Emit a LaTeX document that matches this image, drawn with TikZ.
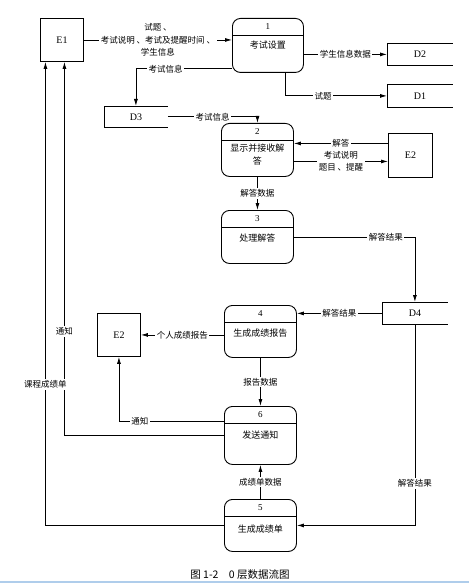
\documentclass[tikz,border=0pt]{standalone}
\usepackage{fontspec}
\setmainfont{Liberation Serif}
\newfontfamily\zh{Noto Sans CJK SC}
\usetikzlibrary{arrows.meta}
\newcommand\mkproc[8][29]{%
  \node[proc, anchor=north west, minimum width=#5pt, minimum height=#6pt] (#2) at (#3,#4) {};
  \draw[line width=0.9pt] ([yshift=-17pt]#2.north west) -- ([yshift=-17pt]#2.north east);
  \node[pnum] (#2n) at ([yshift=-9pt]#2.north) {#7};
  \node[ptext] (#2t) at ([yshift=-#1pt]#2.north) {#8};
}
\newcommand\mkstore[6]{%
  \node[storenode, anchor=north west, minimum width=#4pt, minimum height=#5pt] (#1) at (#2,#3) {#6};
  \draw[line width=0.9pt] (#1.north east) -- (#1.north west) -- (#1.south west) -- (#1.south east);
}
\begin{document}
\begin{tikzpicture}[x=1pt,y=-1pt,
  line width=0.8pt,
  flow/.style={-{Latex[length=7pt,width=4pt]}},
  lab/.style={font=\zh\fontsize{8.5}{12.5}\selectfont, fill=white, inner sep=1.5pt, align=center},
  ent/.style={draw, line width=0.9pt, minimum width=43pt, minimum height=43pt, inner sep=0pt, font=\fontsize{10}{12}\selectfont},
  proc/.style={draw, line width=0.9pt, rounded corners=8pt, inner sep=0pt},
  storenode/.style={inner sep=0pt, font=\fontsize{10}{12}\selectfont},
  ptext/.style={font=\zh\fontsize{9}{13}\selectfont, align=center, inner sep=0pt},
  pnum/.style={font=\fontsize{9}{10}\selectfont, inner sep=0pt}
]
\useasboundingbox[fill=white] (0,0) rectangle (469,583);

% entities
\node[ent, anchor=north west] (E1) at (40,18) {E1};
\node[ent, anchor=north west, minimum width=44pt, minimum height=44pt] (E2a) at (388,133) {E2};
\node[ent, anchor=north west] (E2b) at (97,313) {E2};

% processes
\mkproc[27]{P1}{232}{18}{71}{54}{1}{考试设置}
\mkproc[32]{P2}{221}{123}{72}{53}{2}{显示并接收解\\答}
\mkproc[28]{P3}{221}{210}{72}{53}{3}{处理解答}
\mkproc[28]{P4}{224}{305}{72}{52}{4}{生成成绩报告}
\mkproc[29]{P6}{224}{406}{72}{58}{6}{发送通知}
\mkproc[30]{P5}{224}{499}{72}{52}{5}{生成成绩单}

% data stores
\mkstore{D3}{104}{106}{63}{21}{D3}
\mkstore{D2}{387}{43}{65}{22}{D2}
\mkstore{D1}{387}{84}{65}{23}{D1}
\mkstore{D4}{382}{302}{65}{22}{D4}

% connectors
\draw[flow] (E1.east) -- node[lab]{试题 、\\考试说明 、考试及提醒时间 、\\学生信息} (E1.east -| P1.west);
\draw[flow] ([yshift=4pt]P1.south west) -| node[lab, pos=0.345]{考试信息} (D3.north);
\draw[flow] (D2.west -| P1.east) -- node[lab]{学生信息数据} (D2.west);
\draw[flow] ([xshift=17.5pt]P1.south) |- node[lab, pos=0.686]{试题} (D1.west);
\draw[flow] (D3.east) -| node[lab, pos=0.25]{考试信息} (P2.north);
\draw[flow] ([yshift=12pt]E2a.west) -- node[lab]{解答} ([yshift=12pt]E2a.west -| P2.east);
\draw[flow] ([yshift=-6pt]E2a.west -| P2.east) -- node[lab]{考试说明\\题目 、提醒} ([yshift=-6pt]E2a.west);
\draw[flow] (P2.south) -- node[lab]{解答数据} (P3.north);
\draw[flow] (P3.east) -| node[lab, pos=0.38]{解答结果} (D4.north);
\draw[flow] (D4.west) -- node[lab]{解答结果} (D4.west -| P4.east);
\draw[flow] (E2b.east -| P4.west) -- node[lab]{个人成绩报告} (E2b.east);
\draw[flow] (P4.south) -- node[lab]{报告数据} (P6.north);
\draw[flow] ([yshift=-15pt]P6.north west) -| node[lab, pos=0.4]{通知} (E2b.south);
\draw[flow] ([yshift=-29pt]P6.north west) -| node[lab, pos=0.639]{通知} ([xshift=2.5pt]E1.south);
\draw[flow] (P5.west) -| node[lab, pos=0.652]{课程成绩单} ([xshift=-16.5pt]E1.south);
\draw[flow] (P5.north) -- node[lab]{成绩单数据} (P6.south);
\draw[flow] (D4.south) |- node[lab, pos=0.396]{解答结果} (P5.east);

% caption
\node[font=\zh\fontsize{10.5}{12}\selectfont, inner sep=0pt] (cap) at (240,575) {图 1-2\quad 0 层数据流图};
\draw[color={rgb,255:red,175;green,205;blue,235}, line width=1.5pt] (0,582) -- (469,582);
\end{tikzpicture}
\end{document}
